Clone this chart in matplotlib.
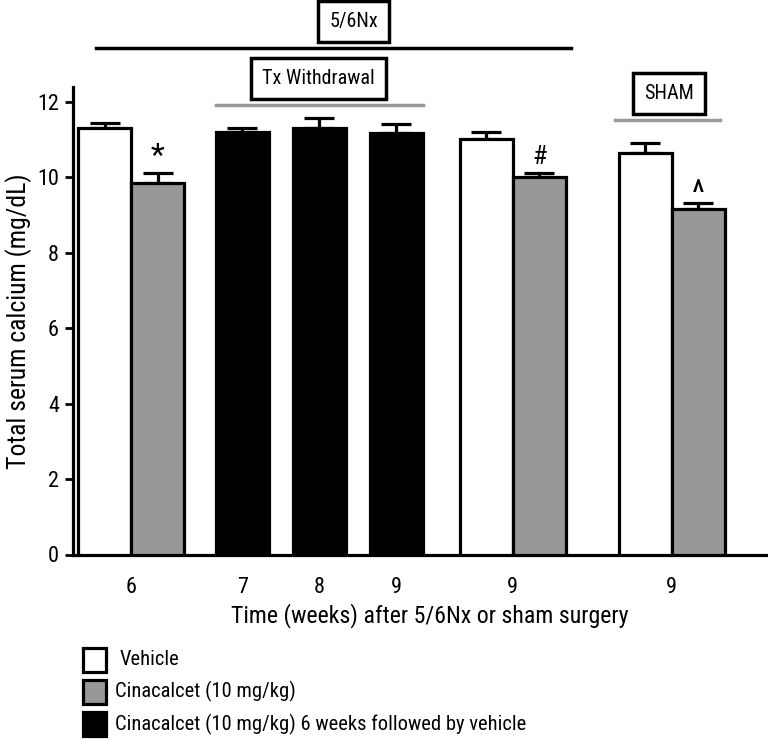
import matplotlib
matplotlib.use("Agg")
import matplotlib.pyplot as plt
from matplotlib.patches import Rectangle
from matplotlib import font_manager

# ---------------- data ----------------
groups = ["6", "6", "7", "8", "9", "9", "9", "9", "9"]
treatment = ["Vehicle", "Cinacalcet", "Withdrawal", "Withdrawal", "Withdrawal",
             "Vehicle", "Cinacalcet", "Vehicle", "Cinacalcet"]
calcium = [11.31, 9.84, 11.19, 11.30, 11.16, 11.00, 10.01, 10.63, 9.16]
sem = [0.12, 0.26, 0.11, 0.26, 0.25, 0.20, 0.11, 0.28, 0.16]
positions = [0, 1, 2.6, 4.05, 5.5, 7.2, 8.2, 10.2, 11.2]
tick_positions = [0.5, 2.6, 4.05, 5.5, 7.7, 10.7]
tick_labels = ["6", "7", "8", "9", "9", "9"]
sig_marks = {1: "*", 6: "#", 8: "^"}
legend_labels = ["Vehicle", "Cinacalcet (10 mg/kg)",
                 "Cinacalcet (10 mg/kg) 6 weeks followed by vehicle"]
colors = {"Vehicle": "white", "Cinacalcet": "#989898", "Withdrawal": "black"}

# ---------------- font ----------------
avail = {f.name for f in font_manager.fontManager.ttflist}
fam = [f for f in ["Roboto Condensed", "Archivo Narrow", "Liberation Sans", "DejaVu Sans"] if f in avail]
plt.rcParams["font.family"] = fam

W, H = 768, 740
fig = plt.figure(figsize=(W / 100, H / 100), dpi=100)
ax_left, ax_right, ax_bottom_px, ax_top_px = 73, 766, 554.5, 87
ax = fig.add_axes([ax_left / W, 1 - ax_bottom_px / H,
                   (ax_right - ax_left) / W, (ax_bottom_px - ax_top_px) / H])

px_per_y = 37.73
ymax = (ax_bottom_px - ax_top_px) / px_per_y
unit = 53.0
ax.set_xlim((ax_left - 104.5) / unit, (ax_right - 104.5) / unit)
ax.set_ylim(0, ymax)

lw = 2.3
for p, v, e, t in zip(positions, calcium, sem, treatment):
    ax.errorbar(p, v, yerr=[[0], [e]], fmt="none", ecolor="black",
                elinewidth=lw, capsize=10.5, capthick=lw, zorder=2)
    ax.bar(p, v, width=1.0, color=colors[t], edgecolor="black",
           linewidth=lw, zorder=3)


def ydata(ypx):
    return (ax_bottom_px - ypx) / px_per_y


def xdata(xpx):
    return (xpx - 104.5) / unit


mark_offset = {"*": 0.45, "#": 0.42, "^": 0.20}
mark_size = {"*": 23, "#": 19, "^": 25}
for i, m in sig_marks.items():
    ax.text(positions[i], calcium[i] + sem[i] + mark_offset[m], m, ha="center",
            va="center", fontsize=mark_size[m], zorder=5)

ax.set_xticks(tick_positions)
ax.set_xticklabels(tick_labels, fontsize=16)
ax.tick_params(axis="x", length=0, pad=16)
ax.set_yticks([0, 2, 4, 6, 8, 10, 12])
ax.tick_params(axis="y", length=6, width=2, pad=4, labelsize=16)
for s in ["top", "right"]:
    ax.spines[s].set_visible(False)
ax.spines["left"].set_linewidth(2.3)
ax.spines["bottom"].set_linewidth(2.3)

ax.set_ylabel("Total serum calcium (mg/dL)", fontsize=18.5)
ax.yaxis.set_label_coords(-(ax_left - 32) / (ax_right - ax_left), 0.5)
fig.text(429.5 / W, 1 - 616 / H, "Time (weeks) after 5/6Nx or sham surgery",
         ha="center", va="center", fontsize=17.2)

# top annotations
box = dict(boxstyle="square,pad=0.55", facecolor="white", edgecolor="black", linewidth=2.5)
ax.plot([xdata(96), xdata(571)], [ydata(48), ydata(48)], color="black", lw=2.5, clip_on=False)
ax.text(xdata(353.5), ydata(21.5), "5/6Nx", ha="center", va="center", fontsize=14.5, bbox=box)
ax.plot([xdata(216), xdata(423)], [ydata(105), ydata(105)], color="#999999", lw=2.5, clip_on=False)
ax.text(xdata(318.5), ydata(78.5), "Tx Withdrawal", ha="center", va="center", fontsize=14.5, bbox=box)
ax.plot([xdata(615), xdata(720)], [ydata(120), ydata(120)], color="#999999", lw=2.5, clip_on=False)
ax.text(xdata(669), ydata(93.5), "SHAM", ha="center", va="center", fontsize=14.5, bbox=box)

# legend
leg_colors = ["white", "#989898", "black"]
leg_y = [659.5, 691.5, 724]
for c, lab, yc in zip(leg_colors, legend_labels, leg_y):
    r = Rectangle((83 / W, 1 - (yc + 12) / H), 23 / W, 24 / H, transform=fig.transFigure,
                  facecolor=c, edgecolor="black", linewidth=2.3)
    fig.add_artist(r)
    fig.text((120 if lab == "Vehicle" else 115) / W, 1 - yc / H, lab,
             ha="left", va="center", fontsize=14.8)

fig.savefig("out.png", dpi=100)
